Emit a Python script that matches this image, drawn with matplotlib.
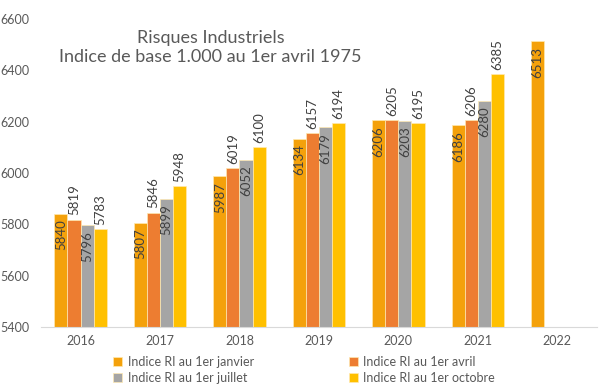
import matplotlib.pyplot as plt
import numpy as np

plt.rcParams['font.family'] = ['Lato', 'DejaVu Sans']

years = ["2016", "2017", "2018", "2019", "2020", "2021", "2022"]
jan = [5840, 5807, 5987, 6134, 6206, 6186, 6513]
avr = [5819, 5846, 6019, 6157, 6205, 6206, np.nan]
juil = [5796, 5899, 6052, 6179, 6203, 6280, np.nan]
octo = [5783, 5948, 6100, 6194, 6195, 6385, np.nan]

series = [
    ("Indice RI au 1er janvier", jan, "#F4A10B", True),
    ("Indice RI au 1er avril", avr, "#ED7D31", False),
    ("Indice RI au 1er juillet", juil, "#A5A5A5", True),
    ("Indice RI au 1er octobre", octo, "#FFC000", False),
]

fig = plt.figure(figsize=(6, 3.89), dpi=100)
ax = fig.add_axes([0.068, 0.159, 0.927, 0.792])

x = np.arange(len(years))
w = 0.165
txt = "#404040"
handles = []
for i, (name, vals, col, inside) in enumerate(series):
    pos = x + (i - 1.5) * w
    bars = ax.bar(pos, vals, width=w, color=col, edgecolor="#FFE9B0", linewidth=0.5,
                  label=name)
    handles.append(bars)
    for p, v in zip(pos, vals):
        if np.isnan(v):
            continue
        if inside:
            ax.annotate(str(v), (p, v), xytext=(0, -4), textcoords="offset points",
                        rotation=90, ha="center", va="top", fontsize=9.5, color=txt)
        else:
            ax.annotate(str(v), (p, v), xytext=(0, 3), textcoords="offset points",
                        rotation=90, ha="center", va="bottom", fontsize=9.5, color=txt)

ax.set_ylim(5400, 6600)
ax.set_yticks(range(5400, 6601, 200))
ax.set_xlim(-0.5, len(years) - 0.5)
ax.set_xticks(x)
ax.set_xticklabels(years)
ax.tick_params(axis="both", length=0, labelsize=9, colors="#595959")
ax.tick_params(axis="y", pad=8)
ax.tick_params(axis="x", pad=6)
for s in ["top", "right", "left"]:
    ax.spines[s].set_visible(False)
ax.spines["bottom"].set_color("#D9D9D9")

ax.text(0.305, 0.965, "Risques Industriels\nIndice de base 1.000 au 1er avril 1975",
        transform=ax.transAxes, ha="center", va="top", fontsize=13,
        color="#595959", linespacing=1.25)

# row-wise order: janvier, avril / juillet, octobre
order = [0, 2, 1, 3]
fig.legend([handles[k] for k in order], [series[k][0] for k in order],
           loc="lower center", bbox_to_anchor=(0.507, -0.015), ncol=2, frameon=False,
           fontsize=9, handlelength=0.7, handleheight=0.7, handletextpad=0.45,
           columnspacing=7.6, labelspacing=0.3, labelcolor="#595959")

fig.savefig("out.png", dpi=100)
